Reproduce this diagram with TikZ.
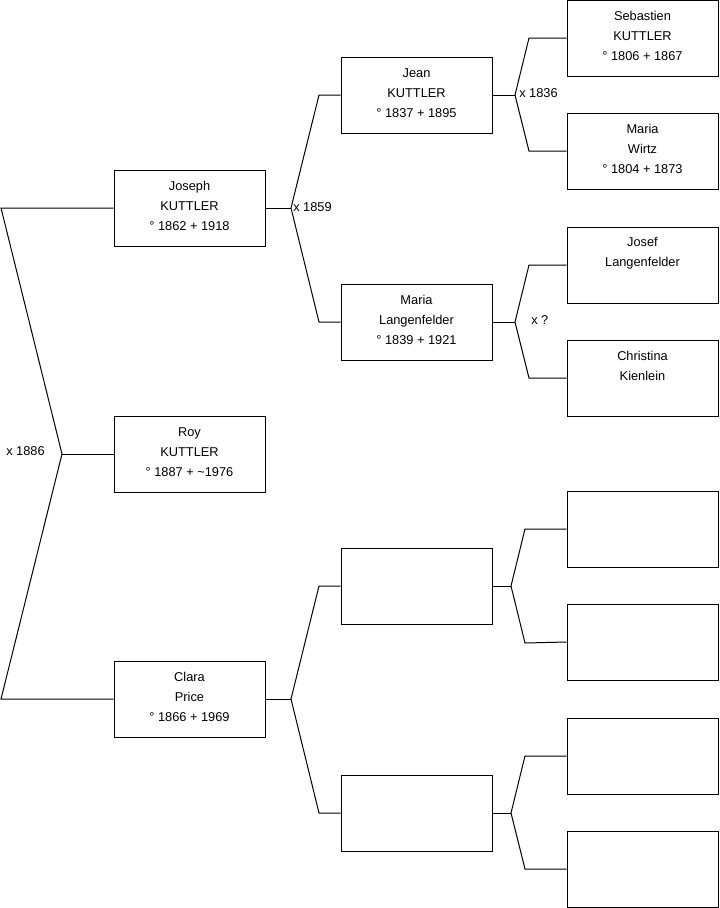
\documentclass[tikz,border=0pt]{standalone}
\usepackage{fontspec}
\setmainfont{Liberation Sans}
\begin{document}
\begin{tikzpicture}[x=0.75pt,y=-0.75pt,
  box/.style={draw=black,line width=0.75pt,minimum width=113.25pt,minimum height=57pt,inner sep=0pt},
  txt/.style={align=center,font=\fontsize{9.6}{15}\selectfont,inner sep=0pt},
  lbl/.style={anchor=west,font=\fontsize{9.6}{11}\selectfont,inner sep=0pt},
  conn/.style={draw=black,line width=0.75pt}]
\useasboundingbox (0,0) rectangle (719,908);
% generation 1
\node[box] (jos) at (189.5,208) {};
\node[box] (roy) at (189.5,454) {};
\node[box] (cla) at (189.5,699) {};
% generation 2
\node[box] (jea) at (416.5,95) {};
\node[box] (mal) at (416.5,322) {};
\node[box] (u1) at (416.5,586) {};
\node[box] (u2) at (416.5,813) {};
% generation 3
\node[box] (seb) at (642.5,38) {};
\node[box] (maw) at (642.5,151) {};
\node[box] (jol) at (642.5,265) {};
\node[box] (chk) at (642.5,378) {};
\node[box] (e1) at (642.5,529) {};
\node[box] (e2) at (642.5,642) {};
\node[box] (e3) at (642.5,756) {};
\node[box] (e4) at (642.5,869) {};
% texts
\node[txt] (josT) at (189.5,206) {Joseph\\KUTTLER\\° 1862 + 1918};
\node[txt] (royT) at (189.5,452) {Roy\\KUTTLER\\° 1887 + \textasciitilde1976};
\node[txt] (claT) at (189.5,697) {Clara\\Price\\° 1866 + 1969};
\node[txt] (jeaT) at (416.5,93) {Jean\\KUTTLER\\° 1837 + 1895};
\node[txt] (malT) at (416.5,320) {Maria\\Langenfelder\\° 1839 + 1921};
\node[txt] (sebT) at (642.5,36) {Sebastien\\KUTTLER\\° 1806 + 1867};
\node[txt] (mawT) at (642.5,149) {Maria\\Wirtz\\° 1804 + 1873};
\node[txt] (jolT) at (642.5,253) {Josef\\Langenfelder};
\node[txt] (chkT) at (642.5,366) {Christina\\Kienlein};
% connectors: generation 1
\coordinate (a0) at (1,208);
\coordinate (v0) at (62,454);
\coordinate (b0) at (1,699);
\draw[conn] (jos.west) -- (a0) -- (v0) -- (b0) -- (cla.west);
\draw[conn] (v0) -- (roy.west);
\node[lbl] (m0) at (6,451) {x 1886};
% Joseph parents
\coordinate (v1) at (291,208);
\coordinate (a1) at (319,95);
\coordinate (b1) at (319,322);
\draw[conn] (jos.east) -- (v1);
\draw[conn] (jea.west) -- (a1) -- (v1) -- (b1) -- (mal.west);
\node[lbl] (m1) at (293,207) {x 1859};
% Clara parents
\coordinate (v2) at (291,699);
\coordinate (a2) at (319,586);
\coordinate (b2) at (319,813);
\draw[conn] (cla.east) -- (v2);
\draw[conn] (u1.west) -- (a2) -- (v2) -- (b2) -- (u2.west);
% Jean parents
\coordinate (v3) at (515,95);
\coordinate (a3) at (529,38);
\coordinate (b3) at (529,151);
\draw[conn] (jea.east) -- (v3);
\draw[conn] (seb.west) -- (a3) -- (v3) -- (b3) -- (maw.west);
\node[lbl] (m3) at (519,93) {x 1836};
% Maria L parents
\coordinate (v4) at (515,322);
\coordinate (a4) at (529,265);
\coordinate (b4) at (529,378);
\draw[conn] (mal.east) -- (v4);
\draw[conn] (jol.west) -- (a4) -- (v4) -- (b4) -- (chk.west);
\node[lbl] (m4) at (531,320) {x ?};
% unnamed 1 parents
\coordinate (v5) at (511,586);
\coordinate (a5) at (525,529);
\coordinate (b5) at (525,643);
\draw[conn] (u1.east) -- (v5);
\draw[conn] (e1.west) -- (a5) -- (v5) -- (b5) -- (e2.west);
% unnamed 2 parents
\coordinate (v6) at (511,813);
\coordinate (a6) at (525,756);
\coordinate (b6) at (525,869);
\draw[conn] (u2.east) -- (v6);
\draw[conn] (e3.west) -- (a6) -- (v6) -- (b6) -- (e4.west);
\end{tikzpicture}
\end{document}
